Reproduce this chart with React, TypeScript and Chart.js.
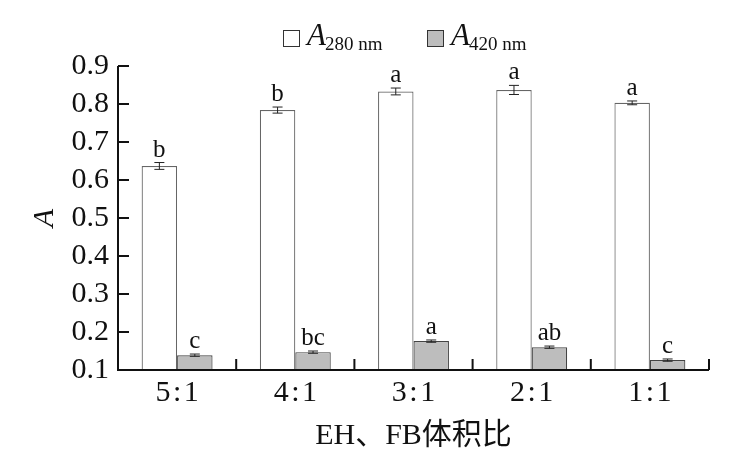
import React, { useEffect, useRef } from "react";
import { Chart, registerables } from "chart.js";
Chart.register(...registerables);

const categories = ["5\u200A:\u200A1", "4\u200A:\u200A1", "3\u200A:\u200A1", "2\u200A:\u200A1", "1\u200A:\u200A1"];
const a280 = [0.637, 0.784, 0.833, 0.837, 0.803];
const a280Err = [0.009, 0.008, 0.009, 0.012, 0.005];
const a420 = [0.139, 0.147, 0.176, 0.16, 0.126];
const a420Err = [0.003, 0.003, 0.003, 0.003, 0.003];
const a280Letters = ["b", "b", "a", "a", "a"];
const a420Letters = ["c", "bc", "a", "ab", "c"];
const yMin = 0.1;
const yMax = 0.9;
const yStep = 0.1;
const legendLabels = [
  { main: "A", sub: "280 nm" },
  { main: "A", sub: "420 nm" },
];
const xTitle = "EH、FB体积比";
const yTitle = "A";

const SERIF = "'Liberation Serif', 'DejaVu Serif', 'Noto Sans CJK SC', serif";

const errSets = [a280Err, a420Err];
const letterSets = [a280Letters, a420Letters];

const decorPlugin = {
  id: "decor",
  afterDatasetsDraw(chart: any) {
    const ctx = chart.ctx;
    const ys = chart.scales.y;
    const xs = chart.scales.x;
    const area = chart.chartArea;
    ctx.save();
    chart.data.datasets.forEach((ds: any, d: number) => {
      const meta = chart.getDatasetMeta(d);
      meta.data.forEach((el: any, i: number) => {
        const v = ds.data[i];
        const e = errSets[d][i];
        const yt = ys.getPixelForValue(v + e);
        const yb = ys.getPixelForValue(v - e);
        const x = el.x;
        ctx.strokeStyle = "#222";
        ctx.lineWidth = 1;
        ctx.beginPath();
        ctx.moveTo(x, yt);
        ctx.lineTo(x, yb);
        ctx.moveTo(x - 5, yt);
        ctx.lineTo(x + 5, yt);
        ctx.moveTo(x - 5, yb);
        ctx.lineTo(x + 5, yb);
        ctx.stroke();
        ctx.fillStyle = "#111";
        ctx.font = `25px ${SERIF}`;
        ctx.textAlign = "center";
        ctx.textBaseline = "alphabetic";
        ctx.fillText(letterSets[d][i], x, yt - 6);
      });
    });
    ctx.strokeStyle = "#111";
    ctx.lineWidth = 2;
    ctx.beginPath();
    ctx.moveTo(area.left, area.top);
    ctx.lineTo(area.left, area.bottom);
    ctx.lineTo(area.right, area.bottom);
    ctx.stroke();
    ctx.beginPath();
    ys.ticks.forEach((t: any) => {
      const y = ys.getPixelForValue(t.value);
      ctx.moveTo(area.left, y);
      ctx.lineTo(area.left + 11, y);
    });
    const n = categories.length;
    for (let i = 1; i <= n; i++) {
      const x =
        (xs.getPixelForValue(i - 1) +
          (i < n ? xs.getPixelForValue(i) : 2 * xs.getPixelForValue(i - 1) - xs.getPixelForValue(i - 2))) /
        2;
      ctx.moveTo(x, area.bottom);
      ctx.lineTo(x, area.bottom - 11);
    }
    ctx.stroke();
    ctx.fillStyle = "#111";
    ctx.textAlign = "center";
    ctx.textBaseline = "alphabetic";
    ctx.font = `30px ${SERIF}`;
    ctx.fillText(xTitle, (area.left + area.right) / 2, 444);
    ctx.save();
    ctx.translate(53, (area.top + area.bottom) / 2);
    ctx.rotate(-Math.PI / 2);
    ctx.font = `italic 30px ${SERIF}`;
    ctx.fillText(yTitle, 0, 0);
    ctx.restore();
    const fills = ["#ffffff", "#bdbdbd"];
    const boxX = [283, 427];
    legendLabels.forEach((lg, k) => {
      ctx.fillStyle = fills[k];
      ctx.fillRect(boxX[k], 30, 16, 16);
      ctx.strokeStyle = "#333";
      ctx.lineWidth = 1;
      ctx.strokeRect(boxX[k] + 0.5, 30.5, 16, 16);
      ctx.fillStyle = "#111";
      ctx.textAlign = "left";
      ctx.font = `italic 31px ${SERIF}`;
      ctx.fillText(lg.main, boxX[k] + 24, 45);
      const w = ctx.measureText(lg.main).width;
      ctx.font = `19px ${SERIF}`;
      ctx.fillText(lg.sub, boxX[k] + 24 + w - 1, 50);
    });
    ctx.restore();
  },
};

export default function App() {
  const ref = useRef<HTMLCanvasElement>(null);
  useEffect(() => {
    if (!ref.current) return;
    const chart = new Chart(ref.current, {
      type: "bar",
      data: {
        labels: categories,
        datasets: [
          {
            label: "A280 nm",
            data: a280,
            backgroundColor: "#ffffff",
            borderColor: "#666",
            borderWidth: 1.2,
            categoryPercentage: 0.6,
            barPercentage: 1,
          },
          {
            label: "A420 nm",
            data: a420,
            backgroundColor: "#bdbdbd",
            borderColor: "#444",
            borderWidth: 1.2,
            categoryPercentage: 0.6,
            barPercentage: 1,
          },
        ],
      },
      options: {
        animation: false,
        responsive: true,
        maintainAspectRatio: false,
        layout: { padding: { top: 66, right: 41, left: 0, bottom: 0 } },
        plugins: { legend: { display: false }, tooltip: { enabled: false } },
        scales: {
          x: {
            grid: { display: false, drawTicks: false },
            border: { display: false },
            ticks: { font: { family: SERIF, size: 30 }, color: "#111", padding: 5, autoSkip: false, maxRotation: 0 },
            afterFit: (s: any) => {
              s.height = 95;
            },
          },
          y: {
            min: yMin,
            max: yMax,
            grid: { display: false, drawTicks: false },
            border: { display: false },
            ticks: {
              stepSize: yStep,
              autoSkip: false,
              font: { family: SERIF, size: 30 },
              color: "#111",
              padding: 9,
              callback: (v: any) => Number(v).toFixed(1),
            },
            afterFit: (s: any) => {
              s.width = 118;
            },
          },
        },
      },
      plugins: [decorPlugin],
    });
    return () => chart.destroy();
  }, []);
  return (
    <div style={{ position: "absolute", left: 0, top: 0, width: 750, height: 465, background: "#fff" }}>
      <canvas ref={ref} />
    </div>
  );
}
